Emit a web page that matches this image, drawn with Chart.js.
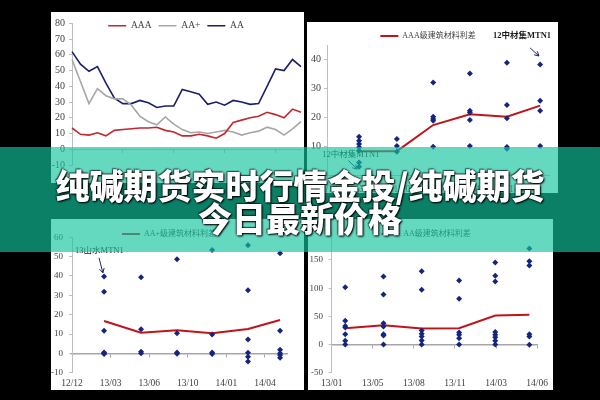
<!DOCTYPE html>
<html>
<head>
<meta charset="utf-8">
<script src="https://cdn.jsdelivr.net/npm/chart.js@4.4.1/dist/chart.umd.min.js"></script>
<style>
  html, body { margin: 0; padding: 0; width: 600px; height: 400px; background: #000; overflow: hidden; }
  .panel { position: absolute; background: #fff; }
  .panel canvas { display: block; }
  #band { position: absolute; left: 0; top: 147px; width: 600px; height: 105px; background: rgba(17, 197, 157, 0.65); }
  #title {
    position: absolute; left: 0; top: 168px; width: 600px; text-align: center;
    color: #fff; font-family: 'Noto Sans CJK SC', sans-serif; font-weight: 900;
    font-size: 34px; line-height: 33px;
    text-shadow: 0 0 2px #000, 1px 1px 2px #000, -1px -1px 1px rgba(0,0,0,.5);
  }
</style>
</head>
<body>
<div class="panel" style="left:51px;top:12px;width:253px;height:171px"><canvas id="c1" width="253" height="171"></canvas></div>
<div class="panel" style="left:307px;top:22px;width:251px;height:171px"><canvas id="c2" width="251" height="171"></canvas></div>
<div class="panel" style="left:51px;top:219px;width:253px;height:171px"><canvas id="c3" width="253" height="171"></canvas></div>
<div class="panel" style="left:308px;top:219px;width:245px;height:171px"><canvas id="c4" width="245" height="171"></canvas></div>
<div id="band"></div>
<div id="title">纯碱期货实时行情金投/纯碱期货<br>今日最新价格</div>

<script>
// top-left: spread by rating, 28 periods
const aaaSpread = [13.5, 9.5, 9, 10.5, 8.5, 12, 12.5, 13, 13.5, 13.5, 14, 12, 11, 8.5, 8.5, 9.5, 8.5, 7, 10, 17, 18.5, 20, 21, 23.5, 22, 20, 25.5, 23.5];
const aaPlusSpread = [57, 43, 29, 38.5, 34, 32, 32, 28, 21, 17.5, 15.5, 20.5, 16, 12.5, 10.5, 11, 10, 11, 12, 11, 9, 10.5, 11.5, 14, 12.5, 9, 13, 17.5];
const aaSpread = [62, 54, 49.5, 52.5, 42, 32.5, 29, 29, 31, 29.5, 26.5, 27.5, 27.5, 38, 36.5, 35, 28.5, 30, 28, 31, 30, 28.5, 29, 40, 51, 50, 57, 52.5];
const periods = aaSpread.map((v, i) => String(i + 1));

// top-right: AAA building materials
const trDates = ['12/12', '13/03', '13/06', '13/10', '14/01', '14/04'];
const trX = [0.83, 1.81, 2.75, 3.70, 4.66, 5.52];
const trBonds = [
  [13.4, 12.0, 10.9, 9.7, 8.5, 4.5, 3],
  [12.6, 10.2, 8.2],
  [32.1, 20.3, 19.5, 18.9, 9.9],
  [35.2, 22.3, 21.7, 19.1, 10.2],
  [38.9, 24.3, 19.7, 9.8, 9.2],
  [38.3, 25.8, 22.3, 10.2]
];
const trAvg = [8.4, 8.4, 17.4, 21.1, 20.3, 24.1];

// bottom-left: AA+ building materials
const blDates = ['12/12', '13/03', '13/06', '13/10', '14/01', '14/04'];
const blX = [0.83, 1.79, 2.72, 3.63, 4.56, 5.39];
const blBonds = [
  [39.7, 31.9, 11.7, 0.5, 0, -0.3],
  [39.4, 12.4, 0.8, 0],
  [48.7, 10.4, 0.5, -0.2],
  [53.4, 9.8, 0.5, -0.3],
  [55.9, 32.6, 7.2, 0.3, -1.7, -4.2],
  [51.8, 11.7, 1.9, 0, -0.9, -2.3]
];
const blAvg = [16.7, 10.7, 11.9, 10.4, 12.6, 17.2];

// bottom-right: AA building materials
const brDates = ['13/01', '13/05', '13/08', '13/11', '14/03', '14/06'];
const brX = [0.33, 1.26, 2.19, 3.10, 3.98, 4.81];
const brBonds = [
  [101.8, 42, 33, 30, 18.4, 6.6, 0],
  [120.6, 88.7, 37.9, 32, 18.4, 16, 0],
  [130, 97, 24.9, 19.1, 14.2, 7.1, 0],
  [113.5, 81, 21.3, 17.2, 11.3, 0],
  [145.4, 121.8, 111.8, 22, 17.2, 13, 6.6, 0],
  [170.2, 147.8, 140, 18.4, 14.2, -0.6]
];
const brAvg = [29, 34.4, 28.4, 29, 51.4, 52.7];

const axisGray = '#bfbfbf';
const zeroGray = '#a6a6a6';
const textGray = '#404040';
const red = '#c0141c';
const dotBlue = '#14257e';
const serif = "'Liberation Serif', 'Noto Sans CJK SC', serif";

// move the legend row down onto the plot, like the Excel originals
const legendNudge = {
  id: 'legendNudge',
  afterLayout(chart, args, opts) {
    const lg = chart.legend;
    if (!lg) return;
    const lab = lg.options.labels;
    const dy = opts.centerY - lab.padding - lab.font.size / 2 - lg.top;
    lg.top += dy;
    lg.bottom += dy;
  }
};

// text notes with arrows, placed in data coordinates
const notes = {
  id: 'notes',
  afterDatasetsDraw(chart, args, opts) {
    const ctx = chart.ctx, sx = chart.scales.x, sy = chart.scales.y;
    for (const n of opts.items || []) {
      ctx.save();
      ctx.fillStyle = '#1a1a1a';
      ctx.font = n.font;
      ctx.textAlign = 'center';
      ctx.textBaseline = 'middle';
      ctx.fillText(n.text, sx.getPixelForValue(n.at[0]), sy.getPixelForValue(n.at[1]));
      if (n.arrow) {
        const x1 = sx.getPixelForValue(n.arrow[0]), y1 = sy.getPixelForValue(n.arrow[1]);
        const x2 = sx.getPixelForValue(n.arrow[2]), y2 = sy.getPixelForValue(n.arrow[3]);
        const a = Math.atan2(y2 - y1, x2 - x1);
        ctx.strokeStyle = '#1b2470';
        ctx.lineWidth = 1;
        ctx.beginPath();
        ctx.moveTo(x1, y1);
        ctx.lineTo(x2, y2);
        ctx.moveTo(x2 - 5 * Math.cos(a - 0.5), y2 - 5 * Math.sin(a - 0.5));
        ctx.lineTo(x2, y2);
        ctx.lineTo(x2 - 5 * Math.cos(a + 0.5), y2 - 5 * Math.sin(a + 0.5));
        ctx.stroke();
      }
      ctx.restore();
    }
  }
};

// legend height = size + padding + 10; negative layout padding lets the plot start above it
function legendOpts(gap, size) {
  return {
    position: 'top',
    labels: {
      usePointStyle: true, pointStyle: 'line', pointStyleWidth: 18,
      padding: gap, color: textGray, font: {family: serif, size: size},
      filter: item => !!item.text
    }
  };
}
function topPad(plotTop, gap, size) { return plotTop - (size + gap + 10); }

function yAxis(min, max, step, width, pad, size) {
  return {
    min: min, max: max,
    ticks: {stepSize: step, color: textGray, padding: pad, font: {family: serif, size: size || 9.5}},
    grid: {drawOnChartArea: false, tickLength: 3, color: axisGray},
    border: {color: axisGray},
    afterFit(s) { s.width = width; }
  };
}

function dateAxis(max, labels, height, withLine) {
  return {
    type: 'linear', min: 0, max: max,
    ticks: {stepSize: 1, includeBounds: false, autoSkip: false, maxRotation: 0, padding: 5,
      color: textGray, font: {family: serif, size: 9.5}, callback: v => labels[v] || ''},
    grid: {display: withLine, drawOnChartArea: false, drawTicks: withLine, tickLength: 3, color: axisGray},
    border: {display: withLine, color: axisGray},
    afterFit(s) { s.height = height; }
  };
}

function zeroAxis(max) {
  return {
    type: 'linear', axis: 'x', position: {y: 0}, min: 0, max: max,
    ticks: {display: false, stepSize: 1, includeBounds: false},
    grid: {drawOnChartArea: false, tickLength: 3, color: zeroGray},
    border: {color: zeroGray, width: 1.5}
  };
}

function dotSet(cols, xs) {
  return {
    label: '',
    data: cols.flatMap((vals, i) => vals.map(v => ({x: xs[i], y: v}))),
    pointStyle: 'rectRot', pointRadius: 3, backgroundColor: dotBlue, borderWidth: 0
  };
}

function avgSet(label, avg, xs) {
  return {
    label: label,
    data: avg.map((v, i) => ({x: xs[i], y: v})),
    showLine: true, pointRadius: 0, borderColor: red, backgroundColor: red, borderWidth: 2
  };
}

Chart.defaults.animation = false;
Chart.defaults.responsive = false;
Chart.defaults.plugins.tooltip.enabled = false;

// top-left
new Chart(document.getElementById('c1'), {
  type: 'line',
  data: {
    labels: periods,
    datasets: [
      {label: 'AAA', data: aaaSpread, borderColor: '#c0282e', backgroundColor: '#c0282e', borderWidth: 1.6, pointRadius: 0},
      {label: 'AA+', data: aaPlusSpread, borderColor: '#a6a6a6', backgroundColor: '#a6a6a6', borderWidth: 1.6, pointRadius: 0},
      {label: 'AA', data: aaSpread, borderColor: '#1b1f6b', backgroundColor: '#1b1f6b', borderWidth: 1.6, pointRadius: 0}
    ]
  },
  options: {
    layout: {padding: {top: topPad(11.3, 7, 9.5), right: 3, bottom: 18}},
    plugins: {legend: legendOpts(7, 9.5), legendNudge: {centerY: 13.7}},
    scales: {
      x: {display: false},
      x0: {
        type: 'category', axis: 'x', position: {y: 0},
        ticks: {display: false},
        grid: {drawOnChartArea: false, tickLength: 3, color: axisGray,
          tickColor: c => (c.index % 6 === 0 ? axisGray : 'rgba(0,0,0,0)')},
        border: {color: axisGray}
      },
      y: yAxis(-10, 80, 10, 21, 4, 10)
    }
  },
  plugins: [legendNudge]
});

// top-right
new Chart(document.getElementById('c2'), {
  type: 'scatter',
  data: {datasets: [dotSet(trBonds, trX), avgSet('AAA级建筑材料利差', trAvg, trX)]},
  options: {
    layout: {padding: {top: topPad(23, 6, 8), right: 9}},
    plugins: {
      legend: legendOpts(6, 8),
      legendNudge: {centerY: 14},
      notes: {items: [
        {text: '12中材集MTN1', font: "bold 8.5px " + serif, at: [5.05, 48.1], arrow: [5.26, 44, 5.49, 41.2]},
        {text: '12中材集MTN1', font: "8.5px " + serif, at: [0.62, 7.1], arrow: [0.55, 5.2, 0.78, 2.2]}
      ]}
    },
    scales: {
      x: dateAxis(5.75, trDates, 17.5, true),
      y: yAxis(0, 45, 5, 20, 3, 10)
    }
  },
  plugins: [legendNudge, notes]
});

// bottom-left
new Chart(document.getElementById('c3'), {
  type: 'scatter',
  data: {datasets: [dotSet(blBonds, blX), avgSet('AA+级建筑材料利差', blAvg, blX)]},
  options: {
    layout: {padding: {top: topPad(18.3, 6, 8), right: 17}},
    plugins: {
      legend: legendOpts(6, 8),
      legendNudge: {centerY: 15},
      notes: {items: [
        {text: '13山水MTN1', font: "8.5px " + serif, at: [0.71, 53], arrow: [0.70, 49.4, 0.80, 41.6]}
      ]}
    },
    scales: {
      x: dateAxis(5.57, blDates, 17.3, false),
      x0: zeroAxis(5.57),
      y: yAxis(-10, 60, 10, 21, 6, 9)
    }
  },
  plugins: [legendNudge, notes]
});

// bottom-right
new Chart(document.getElementById('c4'), {
  type: 'scatter',
  data: {datasets: [dotSet(brBonds, brX), avgSet('AA级建筑材料利差', brAvg, brX)]},
  options: {
    layout: {padding: {top: topPad(12.8, 6, 8), right: 9}},
    plugins: {legend: legendOpts(6, 8), legendNudge: {centerY: 15}},
    scales: {
      x: dateAxis(5, brDates, 17.3, false),
      x0: zeroAxis(5),
      y: yAxis(-50, 200, 50, 23.7, 5.7, 9)
    }
  },
  plugins: [legendNudge]
});
</script>
</body>
</html>
